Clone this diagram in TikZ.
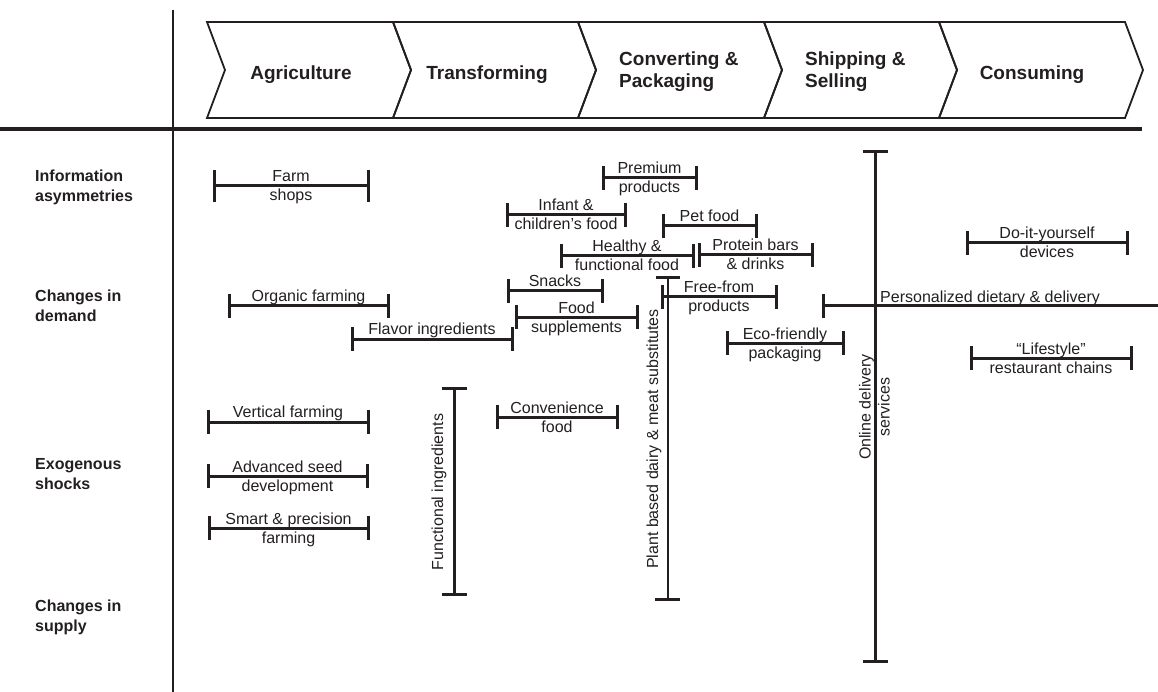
\documentclass[tikz,border=0pt]{standalone}
\usepackage{fontspec}
\setmainfont{Liberation Sans}
\definecolor{ink}{RGB}{35,31,32}
\newcommand\lst{\rule[-4pt]{0pt}{16pt}}
\newcommand\hst{\rule[-5pt]{0pt}{19pt}}
\newcommand\hbrk[4][12]{\draw[bar] (#2,#4-#1)--(#2,#4+#1) (#2,#4)--(#3,#4) (#3,#4-#1)--(#3,#4+#1);}
\newcommand\vbrk[4][12.5]{\draw[bar] (#2-#1,#3)--(#2+#1,#3) (#2,#3)--(#2,#4) (#2-#1,#4)--(#2+#1,#4);}
\newcommand\chev[2]{\draw[chev] (#1,22)--(#2,22)--(#2+18,70)--(#2,118)--(#1,118)--(#1+18,70)--cycle;}
\begin{document}
\begin{tikzpicture}[x=1pt,y=-1pt,
  chev/.style={draw=ink,line width=1.8pt,line join=miter},
  bar/.style={draw=ink,line width=3pt},
  axis/.style={draw=ink},
  lbl/.style={font=\fontsize{16}{19}\selectfont,text=ink,inner sep=0pt,align=center},
  side/.style={font=\bfseries\fontsize{16}{20}\selectfont,text=ink,inner sep=0pt,align=left,anchor=west},
  head/.style={font=\bfseries\fontsize{19}{22}\selectfont,text=ink,inner sep=0pt,align=left}]
\useasboundingbox (0,0) rectangle (1158,692);
% axes
\draw[axis,line width=4pt] (0,129) -- (1142,129);
\draw[axis,line width=2pt] (173,10) -- (173,692);
% chevrons
\chev{207}{393}
\chev{393}{578}
\chev{578}{764}
\chev{764}{939}
\chev{939}{1125}
\node[head,anchor=base] (agr) at (301,80) {\hst Agriculture};
\node[head,anchor=base] (tra) at (487,80) {\hst Transforming};
\node[head,anchor=west] (con) at (619,72.5) {\hst Converting \&\\\hst Packaging};
\node[head,anchor=west] (shi) at (805,72.5) {\hst Shipping \&\\\hst Selling};
\node[head,anchor=base] (cns) at (1032,80) {\hst Consuming};
% side labels
\node[side] (s1) at (35,188) {\lst Information\\\lst asymmetries};
\node[side] (s2) at (35,307) {\lst Changes in\\\lst demand};
\node[side] (s3) at (35,475) {\lst Exogenous\\\lst shocks};
\node[side] (s4) at (35,617) {\lst Changes in\\\lst supply};
% horizontal brackets
\hbrk[16]{214}{368}{186}
\node[lbl] (farm) at (291,187.5) {\lst Farm\\\lst shops};
\hbrk{229}{388}{306}
\node[lbl,anchor=south] (org) at (308.5,306) {\lst Organic farming};
\hbrk{352}{512}{339}
\node[lbl,anchor=south] (flav) at (432,339) {\lst Flavor ingredients};
\hbrk{208}{368}{422}
\node[lbl,anchor=south] (vert) at (288,422) {\lst Vertical farming};
\hbrk{208}{367}{476}
\node[lbl] (seed) at (287.5,477.5) {\lst Advanced seed\\\lst development};
\hbrk{209}{368}{528}
\node[lbl] (smart) at (288.5,529.5) {\lst Smart \& precision\\\lst farming};
\hbrk{603}{696}{178}
\node[lbl] (prem) at (649.5,179.5) {\lst Premium\\\lst products};
\hbrk{507}{625}{215}
\node[lbl] (inf) at (566,216.5) {\lst Infant \&\\\lst children’s food};
\hbrk{663}{756}{226}
\node[lbl,anchor=south] (pet) at (709.5,226) {\lst Pet food};
\hbrk{561}{693}{256}
\node[lbl] (heal) at (627,257.5) {\lst Healthy \&\\\lst functional food};
\hbrk{699}{812}{255}
\node[lbl] (prot) at (755.5,256.5) {\lst Protein bars\\\lst \& drinks};
\hbrk{508}{602}{291}
\node[lbl,anchor=south] (snk) at (555,291) {\lst Snacks};
\hbrk{516}{637}{317}
\node[lbl] (supp) at (576.5,318.5) {\lst Food\\\lst supplements};
\hbrk{662}{776}{297}
\node[lbl] (free) at (719,298.5) {\lst Free-from\\\lst products};
\hbrk{727}{843}{343}
\node[lbl] (eco) at (785,344.5) {\lst Eco-friendly\\\lst packaging};
\hbrk{497}{617}{417}
\node[lbl] (conv) at (557,418.5) {\lst Convenience\\\lst food};
\hbrk{967}{1127}{243}
\node[lbl] (diy) at (1047,244.5) {\lst Do-it-yourself\\\lst devices};
\hbrk{971}{1131}{358}
\node[lbl] (life) at (1051,359.5) {\lst “Lifestyle”\\\lst restaurant chains};
% personalized
\draw[bar] (823,294)--(823,318) (823,306)--(1158,306);
\node[lbl,anchor=base west] (pers) at (880,302) {Personalized dietary \& delivery};
% vertical brackets
\vbrk{454}{388}{594}
\node[lbl,rotate=90] (func) at (439,492) {\lst Functional ingredients};
\draw[bar] (656,278)--(680,278) (655,599)--(680,599);
\draw[ink,line width=2pt] (668,278)--(668,599);
\node[lbl,rotate=90] (plant) at (654,439) {\lst Plant based dairy \& meat substitutes};
\vbrk{875}{152}{661}
\node[lbl,rotate=90] (onl) at (876,407) {\lst Online delivery\\\lst services};
\end{tikzpicture}
\end{document}
